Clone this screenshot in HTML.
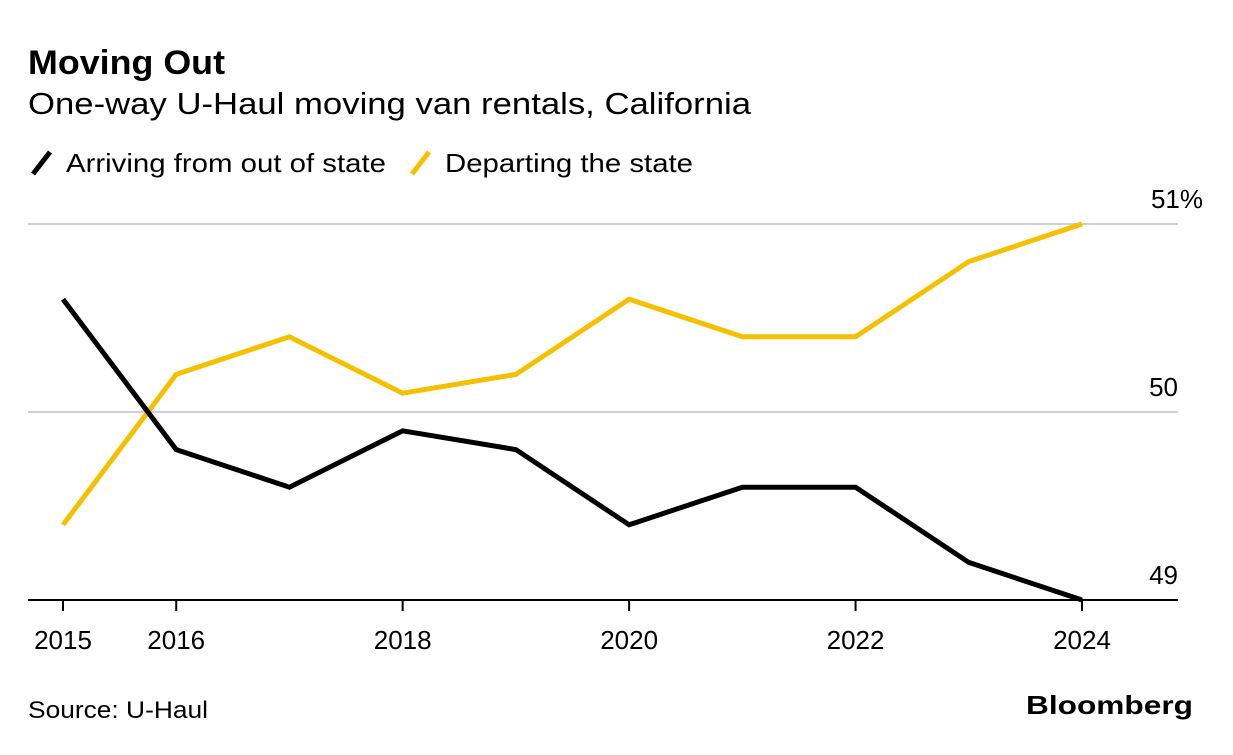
<!DOCTYPE html>
<html><head><meta charset="utf-8"><style>
body{margin:0;background:#fff;width:1233px;height:750px;overflow:hidden;font-family:"Liberation Sans",sans-serif;}
svg text{font-family:"Liberation Sans",sans-serif;}
</style></head><body>
<svg width="1233" height="750">
<text x="28" y="74" font-size="34" font-weight="bold" fill="#000" textLength="197" lengthAdjust="spacingAndGlyphs">Moving Out</text>
<text x="28" y="114" font-size="31" fill="#000" textLength="723" lengthAdjust="spacingAndGlyphs">One-way U-Haul moving van rentals, California</text>
<g>
<line x1="33" y1="174" x2="50" y2="152" stroke="#000" stroke-width="5"/>
<text x="66" y="172" font-size="26" fill="#000" textLength="320" lengthAdjust="spacingAndGlyphs">Arriving from out of state</text>
<line x1="412" y1="174" x2="429" y2="152" stroke="#f5c000" stroke-width="5"/>
<text x="445" y="172" font-size="26" fill="#000" textLength="248" lengthAdjust="spacingAndGlyphs">Departing the state</text>
</g>
<g id="plot"></g>
<text x="28" y="718" font-size="24" fill="#000" textLength="180" lengthAdjust="spacingAndGlyphs">Source: U-Haul</text>
<text x="1026" y="714" font-size="26" font-weight="bold" fill="#000" textLength="167" lengthAdjust="spacingAndGlyphs">Bloomberg</text>
</svg>
<script>
const years=[2015,2016,2017,2018,2019,2020,2021,2022,2023,2024];
const arriving=[50.6,49.8,49.6,49.9,49.8,49.4,49.6,49.6,49.2,49.0];
const departing=[49.4,50.2,50.4,50.1,50.2,50.6,50.4,50.4,50.8,51.0];
const yTicks=[49,50,51];
const yTickLabels=["49","50","51%"];
const xTicks=[2015,2016,2018,2020,2022,2024];
const xTickLabels=["2015","2016","2018","2020","2022","2024"];
const ns="http://www.w3.org/2000/svg";
const g=document.getElementById('plot');
const X=v=>63+(v-2015)*(1082-63)/9;
const Y=v=>600-(v-49)*188;
function mk(t,a){const e=document.createElementNS(ns,t);for(const k in a)e.setAttribute(k,a[k]);g.appendChild(e);return e;}
yTicks.forEach((t,i)=>{
 if(t!==49){const l=mk('line',{x1:28,x2:1178,y1:Y(t),y2:Y(t),stroke:'#d0d0d0','stroke-width':2});
 
 }
 const tx=mk('text',{x:i===2?1203:1178,y:Y(t)-16,'font-size':26,'text-anchor':'end',fill:'#000'});
 tx.textContent=yTickLabels[i];
 
 
});
xTicks.forEach((t,i)=>{
 const l=mk('line',{x1:X(t),x2:X(t),y1:600,y2:611,stroke:'#000','stroke-width':2});
 
 
 const tx=mk('text',{x:X(t),y:649,'font-size':26,'text-anchor':'middle',fill:'#000'});
 tx.textContent=xTickLabels[i];
 
 
});
const base=mk('line',{x1:28,x2:1178,y1:600,y2:600,stroke:'#000','stroke-width':2});


function series(vals,color,name){
 const p=mk('polyline',{points:vals.map((v,i)=>X(years[i])+','+Y(v)).join(' '),fill:'none',stroke:color,'stroke-width':5,'stroke-linejoin':'miter'});
 
 
}
series(departing,'#f5c000','departing-line');
series(arriving,'#000','arriving-line');
</script>
</body></html>
